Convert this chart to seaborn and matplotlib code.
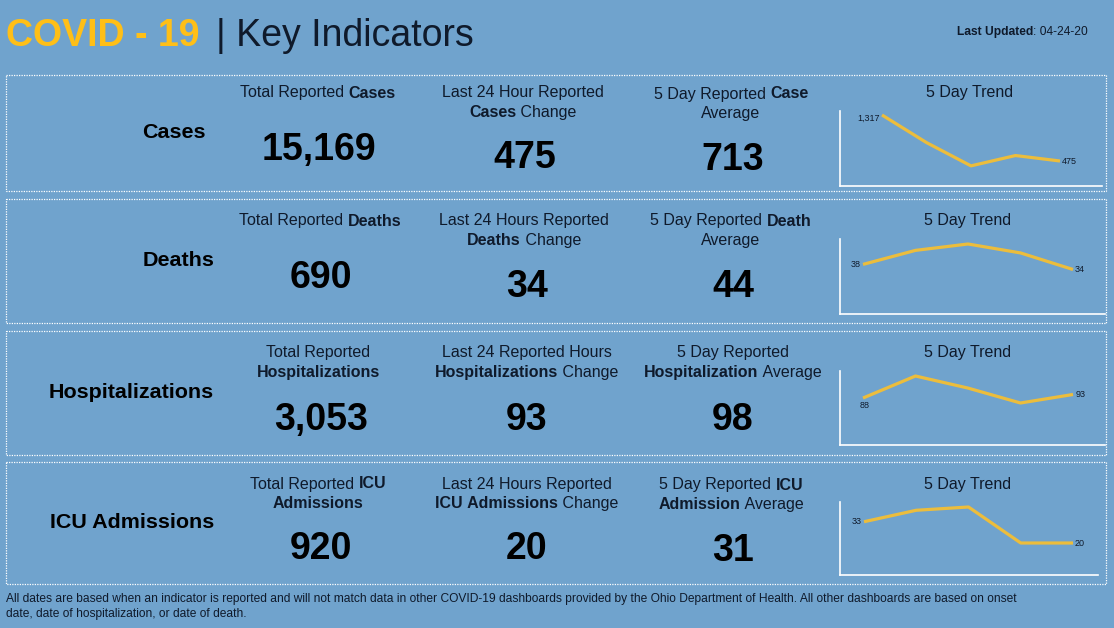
import matplotlib
matplotlib.use("Agg")
import matplotlib.pyplot as plt
from matplotlib.patches import Rectangle
import seaborn as sns

sns.set_theme(style="white")
plt.rcParams["font.family"] = ["Liberation Sans", "DejaVu Sans"]

W, H = 1114, 628
BG = "#70a3cd"
INK = "#0f1a2b"
GOLD = "#ffbf17"
LINE = "#ecbd3c"

# ---------- data ----------
days = [1, 2, 3, 4, 5]
cases_trend = [1317, 812, 386, 575, 475]
deaths_trend = [38, 49, 54, 47, 34]
hosp_trend = [88, 119, 102, 81, 93]
icu_trend = [33, 40, 42, 20, 20]
trend_title = "5 Day Trend"
row_names = ["Cases", "Deaths", "Hospitalizations", "ICU Admissions"]
totals = ["15,169", "690", "3,053", "920"]
changes = ["475", "34", "93", "20"]
averages = ["713", "44", "98", "31"]
end_labels = [("1,317", "475"), ("38", "34"), ("88", "93"), ("33", "20")]
total_heads = [
    [[("Total Reported ", 0), ("Cases", 1)]],
    [[("Total Reported ", 0), ("Deaths", 1)]],
    [[("Total Reported", 0)], [("Hospitalizations", 1)]],
    [[("Total Reported ", 0), ("ICU", 1)], [("Admissions", 1)]],
]
change_heads = [
    [[("Last 24 Hour Reported", 0)], [("Cases", 1), (" Change", 0)]],
    [[("Last 24 Hours Reported", 0)], [("Deaths", 1), (" Change", 0)]],
    [[("Last 24 Reported Hours", 0)], [("Hospitalizations", 1), (" Change", 0)]],
    [[("Last 24 Hours Reported", 0)], [("ICU Admissions", 1), (" Change", 0)]],
]
avg_heads = [
    [[("5 Day Reported ", 0), ("Case", 1)], [("Average", 0)]],
    [[("5 Day Reported ", 0), ("Death", 1)], [("Average", 0)]],
    [[("5 Day Reported", 0)], [("Hospitalization", 1), (" Average", 0)]],
    [[("5 Day Reported ", 0), ("ICU", 1)], [("Admission", 1), (" Average", 0)]],
]
footer = [
    "All dates are based when an indicator is reported and will not match data in other COVID-19 dashboards provided by the Ohio Department of Health. All other dashboards are based on onset",
    "date, date of hospitalization, or date of death.",
]

# ---------- layout (pixels) ----------
boxes = [(6, 75, 1106, 191), (6, 199, 1106, 323), (6, 331, 1106, 455), (6, 462, 1106, 584)]
label_right = [206, 214, 214, 214]
label_y = [132, 260, 392, 522]
head_x = [(318, 523, 731, 970), (320, 524, 731, 968), (318, 527, 733, 968), (318, 527, 731, 968)]
head_y = [(93, 93, 94, 93), (221, 221, 221, 221), (353, 353, 353, 353), (484, 484, 485, 484)]
line_gap = 19.5
big_pos = [
    ((319, 150), (525, 158), (733, 160)),
    ((321, 278), (527, 287), (733, 287)),
    ((321, 420), (527, 420), (733, 420)),
    ((321, 549), (527, 549), (733, 551)),
]
# axes box (left, top, right, bottom), first/last point x, and two value->pixel anchors
trend_layout = [
    dict(box=(839.5, 111, 1102, 186), px=(882, 1060), a=(1317, 115), b=(475, 161)),
    dict(box=(839.5, 239, 1105, 314), px=(863, 1073), a=(54, 244), b=(34, 269.5)),
    dict(box=(839.5, 371, 1105, 445), px=(863, 1073), a=(119, 376), b=(81, 403)),
    dict(box=(839.5, 502, 1098, 575), px=(864, 1073), a=(42, 507), b=(20, 543)),
]
# label offsets from end points, in pixels
first_off = [(-2, 3), (-2, 0), (2, 7), (-2, 0)]
last_off = [(2, 0), (2, 0), (3, 0), (2, 0)]

fig = plt.figure(figsize=(W / 100, H / 100), dpi=100, facecolor=BG)
bg = fig.add_axes([0, 0, 1, 1], facecolor=BG)
bg.set_xlim(0, W)
bg.set_ylim(H, 0)
bg.axis("off")
renderer = fig.canvas.get_renderer()


def px(s):
    return s * 0.72


def seg_line(x, y, segs, size, color=INK, align="center"):
    """Draw a line of regular/bold runs as real text, centred on x."""
    parts = []
    for s, b in segs:
        t = bg.text(0, y, s.replace(" ", "\u00a0"), fontsize=px(size), color=color,
                    fontweight="bold" if b else "normal", va="center", ha="left")
        parts.append(t)
    widths = [t.get_window_extent(renderer).width for t in parts]
    total = sum(widths)
    cur = x - total / 2 if align == "center" else x - total
    for t, w in zip(parts, widths):
        t.set_x(cur)
        cur += w


for (x0, y0, x1, y1) in boxes:
    bg.add_patch(Rectangle((x0, y0), x1 - x0, y1 - y0, fill=False, ec="white", lw=0.9, ls=(0, (1, 1))))

# title
seg_line(6, 36, [("COVID - 19", 1)], 37.5, color=GOLD, align="right") if False else None
t1 = bg.text(6, 36, "COVID\u00a0-\u00a019", fontsize=px(37.5), fontweight="bold", color=GOLD, va="center", ha="left")
bg.text(216, 36, "|\u00a0Key Indicators", fontsize=px(37.5), color=INK, va="center", ha="left")
seg_line(1088, 32, [("Last Updated", 1), (": 04-24-20", 0)], 12, align="right")

for i in range(4):
    bg.text(label_right[i], label_y[i], row_names[i], fontsize=px(21.5), fontweight="bold",
            color="black", ha="right", va="center")
    for j, heads in enumerate((total_heads, change_heads, avg_heads)):
        for k, segs in enumerate(heads[i]):
            seg_line(head_x[i][j], head_y[i][j] + k * line_gap, segs, 16)
    bg.text(head_x[i][3], head_y[i][3], trend_title, fontsize=px(16), color=INK, ha="center", va="center")
    for (x, y), v in zip(big_pos[i], (totals[i], changes[i], averages[i])):
        bg.text(x, y, v, fontsize=px(37.5), fontweight="bold", color="black", ha="center", va="center")

for y, line in zip((599, 614), footer):
    bg.text(6, y, line, fontsize=px(12), color=INK, ha="left", va="center")

# trend charts
for i, vals in enumerate((cases_trend, deaths_trend, hosp_trend, icu_trend)):
    L = trend_layout[i]
    l, t, r, b = L["box"]
    ax = fig.add_axes([l / W, 1 - b / H, (r - l) / W, (b - t) / H], facecolor="none")
    sns.lineplot(x=days, y=vals, ax=ax, color=LINE, lw=2.3, solid_capstyle="butt", errorbar=None)
    step = (L["px"][1] - L["px"][0]) / (len(days) - 1)
    ax.set_xlim(days[0] - (L["px"][0] - l) / step, days[0] + (r - L["px"][0]) / step)
    (va, ya), (vb, yb) = L["a"], L["b"]
    per = (va - vb) / (yb - ya)
    ax.set_ylim(va - (b - ya) * per, va + (ya - t) * per)
    ax.set_xticks([])
    ax.set_yticks([])
    ax.set_xlabel("")
    ax.set_ylabel("")
    for s in ("top", "right"):
        ax.spines[s].set_visible(False)
    for s in ("left", "bottom"):
        ax.spines[s].set_color("white")
        ax.spines[s].set_linewidth(1.2)
    ax.annotate(end_labels[i][0], (days[0], vals[0]), xytext=(first_off[i][0] * 0.72, -first_off[i][1] * 0.72),
                textcoords="offset points", ha="right" if i != 2 else "center", va="center",
                fontsize=px(9), color=INK, annotation_clip=False)
    ax.annotate(end_labels[i][1], (days[-1], vals[-1]), xytext=(last_off[i][0] * 0.72, -last_off[i][1] * 0.72),
                textcoords="offset points", ha="left", va="center",
                fontsize=px(9), color=INK, annotation_clip=False)

fig.savefig("out.png", dpi=100, facecolor=BG)
